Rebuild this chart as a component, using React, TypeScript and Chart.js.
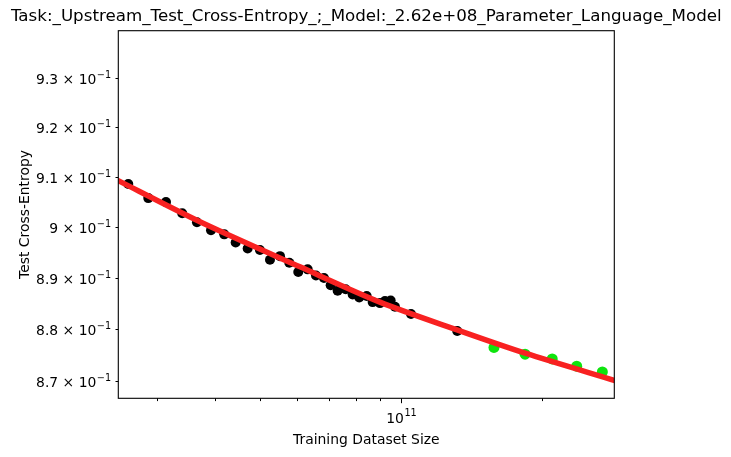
import { useEffect, useRef } from "react";
import { Chart, registerables, type Plugin } from "chart.js";

Chart.register(...registerables);

const W = 731;
const H = 457;
const FONT = "'DejaVu Sans', sans-serif";

// data
const TRAIN_SIZE = [
  2.609e10, 2.879e10, 3.141e10, 3.402e10, 3.658e10, 3.92e10, 4.184e10, 4.426e10,
  4.695e10, 4.988e10, 5.24e10, 5.505e10, 5.763e10, 6.023e10, 6.308e10, 6.571e10,
  6.835e10, 7.064e10, 7.311e10, 7.604e10, 7.871e10, 8.131e10, 8.433e10, 8.686e10,
  9.004e10, 9.229e10, 9.491e10, 9.694e10, 1.049e11, 1.317e11,
];
const TRAIN_LOSS = [
  0.9086, 0.9058, 0.905, 0.9028, 0.901, 0.8994, 0.8986, 0.897,
  0.8958, 0.8955, 0.8936, 0.8943, 0.893, 0.8912, 0.8917, 0.8905,
  0.89, 0.8886, 0.8875, 0.8878, 0.8868, 0.8862, 0.8865, 0.8853,
  0.8851, 0.8855, 0.8856, 0.8844, 0.883, 0.8797,
];
const HOLDOUT_SIZE = [1.578e11, 1.839e11, 2.102e11, 2.371e11, 2.69e11];
const HOLDOUT_LOSS = [0.8765, 0.8752, 0.8743, 0.8729, 0.8718];

const FIT_SIZE = [2.4e10, 3.713e10, 6.074e10, 9.004e10, 1.3156e11, 1.839e11, 2.9e11];
const FIT_LOSS = [0.91, 0.9011, 0.8922, 0.8853, 0.8799, 0.8754, 0.87];

const X_MIN = 2.484e10;
const X_MAX = 2.853e11;
const Y_MIN = 0.86675;
const Y_MAX = 0.9398;

const X_MAJOR = [1e11];
const X_MAJOR_LABELS = [["10", "11"]];
const X_MINOR = [3e10, 4e10, 5e10, 6e10, 7e10, 8e10, 9e10, 2e11];
const Y_TICKS = [0.87, 0.88, 0.89, 0.9, 0.91, 0.92, 0.93];
const Y_TICK_LABELS = ["8.7", "8.8", "8.9", "9", "9.1", "9.2", "9.3"];

const TITLE = "Task:_Upstream_Test_Cross-Entropy_;_Model:_2.62e+08_Parameter_Language_Model";
const X_TITLE = "Training Dataset Size";
const Y_TITLE = "Test Cross-Entropy";

const RED = "#f82121";
const GREEN = "#0ee40e";

// matplotlib-like frame, ticks and mathtext labels
const axesDecor: Plugin<"scatter"> = {
  id: "axesDecor",
  afterDraw(chart) {
    const { ctx, chartArea: a, scales } = chart;
    const xs = scales.x;
    const ys = scales.y;
    ctx.save();
    ctx.strokeStyle = "#000";
    ctx.lineWidth = 1.1;
    ctx.strokeRect(a.left, a.top, a.right - a.left, a.bottom - a.top);

    ctx.lineWidth = 1;
    ctx.beginPath();
    for (const v of X_MINOR) {
      const px = Math.round(xs.getPixelForValue(v)) + 0.5;
      ctx.moveTo(px, a.bottom);
      ctx.lineTo(px, a.bottom + 2.8);
    }
    for (const v of X_MAJOR) {
      const px = Math.round(xs.getPixelForValue(v)) + 0.5;
      ctx.moveTo(px, a.bottom);
      ctx.lineTo(px, a.bottom + 4.9);
    }
    for (const v of Y_TICKS) {
      const py = Math.round(ys.getPixelForValue(v)) + 0.5;
      ctx.moveTo(a.left, py);
      ctx.lineTo(a.left - 2.8, py);
    }
    ctx.stroke();

    ctx.fillStyle = "#000";
    ctx.textBaseline = "alphabetic";
    ctx.textAlign = "left";
    const big = `13.9px ${FONT}`;
    const small = `9.7px ${FONT}`;

    // y tick labels: m × 10^-1
    Y_TICKS.forEach((v, i) => {
      const py = ys.getPixelForValue(v);
      const base = `${Y_TICK_LABELS[i]} × 10`;
      const exp = "\u22121";
      ctx.font = big;
      const wb = ctx.measureText(base).width;
      ctx.font = small;
      const we = ctx.measureText(exp).width;
      const x0 = a.left - 7.7 - wb - we;
      ctx.font = big;
      ctx.fillText(base, x0, py + 5.5);
      ctx.font = small;
      ctx.fillText(exp, x0 + wb + 0.5, py - 0.5);
    });

    // x tick labels: 10^11
    X_MAJOR.forEach((v, i) => {
      const px = xs.getPixelForValue(v);
      const [base, exp] = X_MAJOR_LABELS[i];
      ctx.font = big;
      const wb = ctx.measureText(base).width;
      ctx.font = small;
      const we = ctx.measureText(exp).width;
      const x0 = px - (wb + we) / 2;
      ctx.font = big;
      ctx.fillText(base, x0, a.bottom + 24.5);
      ctx.font = small;
      ctx.fillText(exp, x0 + wb + 0.5, a.bottom + 18);
    });

    // titles
    ctx.textAlign = "center";
    ctx.font = big;
    ctx.fillText(X_TITLE, (a.left + a.right) / 2, a.bottom + 46);
    ctx.font = `16.7px ${FONT}`;
    ctx.fillText(TITLE, (a.left + a.right) / 2, a.top - 9.5);

    ctx.translate(29, (a.top + a.bottom) / 2);
    ctx.rotate(-Math.PI / 2);
    ctx.font = big;
    ctx.fillText(Y_TITLE, 0, 0);
    ctx.restore();
  },
};

export default function App() {
  const canvasRef = useRef<HTMLCanvasElement>(null);

  useEffect(() => {
    document.body.style.margin = "0";
    if (!canvasRef.current) return;

    const chart = new Chart(canvasRef.current, {
      type: "scatter",
      data: {
        datasets: [
          {
            label: "fit",
            data: FIT_SIZE.map((x, i) => ({ x, y: FIT_LOSS[i] })),
            showLine: true,
            borderColor: RED,
            borderWidth: 5.5,
            pointRadius: 0,
            tension: 0.3,
            clip: 0,
            order: 0,
          },
          {
            label: "train",
            data: TRAIN_SIZE.map((x, i) => ({ x, y: TRAIN_LOSS[i] })),
            backgroundColor: "#000",
            borderWidth: 0,
            pointRadius: 5,
            order: 1,
          },
          {
            label: "holdout",
            data: HOLDOUT_SIZE.map((x, i) => ({ x, y: HOLDOUT_LOSS[i] })),
            backgroundColor: GREEN,
            borderWidth: 0,
            pointRadius: 5.5,
            order: 2,
          },
        ],
      },
      options: {
        animation: false,
        responsive: false,
        events: [],
        layout: {
          padding: { left: 118.3, right: W - 614.3, top: 30.7, bottom: H - 398.3 },
        },
        scales: {
          x: { type: "logarithmic", min: X_MIN, max: X_MAX, display: false },
          y: { type: "logarithmic", min: Y_MIN, max: Y_MAX, display: false },
        },
        plugins: {
          legend: { display: false },
          tooltip: { enabled: false },
        },
      },
      plugins: [axesDecor],
    });

    return () => chart.destroy();
  }, []);

  return (
    <div style={{ width: W, height: H, background: "#fff" }}>
      <canvas ref={canvasRef} width={W} height={H} />
    </div>
  );
}
